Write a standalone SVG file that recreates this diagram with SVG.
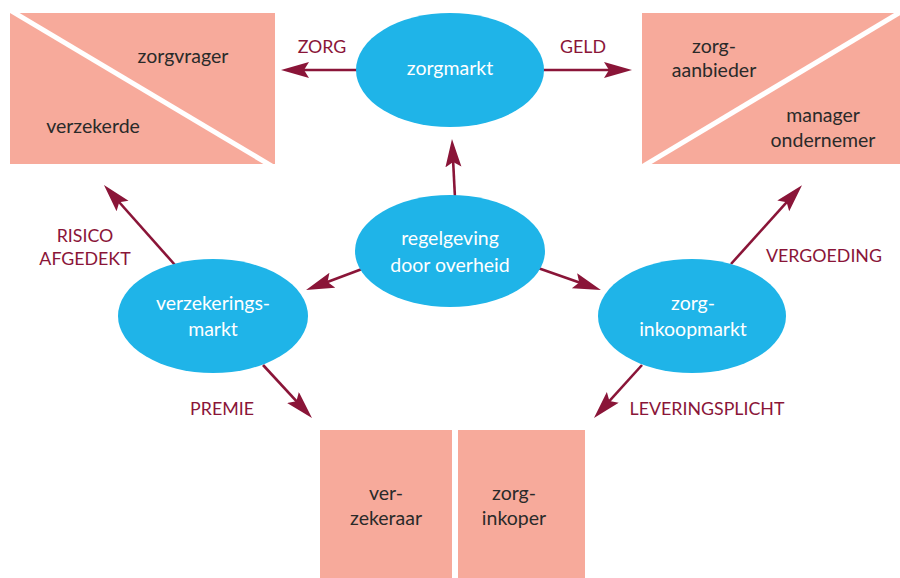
<svg xmlns="http://www.w3.org/2000/svg" width="900" height="578" viewBox="0 0 900 578">
<style>
.box{fill:#f7aa9b}
.ell{fill:#1fb4e8}
.diag{stroke:#fff;stroke-width:5}
.nt{font-family:Lato,"Open Sans","Liberation Sans",sans-serif;font-size:19.5px;fill:#fff;text-anchor:middle}
.bt{font-family:Lato,"Open Sans","Liberation Sans",sans-serif;font-size:19.5px;fill:#2a2a2a;text-anchor:middle}
.lb{font-family:Lato,"Open Sans","Liberation Sans",sans-serif;font-size:17.8px;fill:#8a1538;text-anchor:middle}
.arr{stroke:#8a1538;stroke-width:2.6;fill:none;marker-end:url(#ah)}
</style>
<defs>
<marker id="ah" markerUnits="userSpaceOnUse" markerWidth="30" markerHeight="18" refX="18" refY="8" orient="auto" viewBox="0 0 30 18">
<path d="M0,0 L28,8 L0,16 L5,8 z" fill="#8a1538"/>
</marker>
<clipPath id="c1"><rect x="10" y="13" width="265" height="151"/></clipPath>
<clipPath id="c2"><rect x="642" y="13" width="258" height="151"/></clipPath>
</defs>
<g id="connectors">
<line class="arr" x1="360" y1="70" x2="291" y2="70"/>
<line class="arr" x1="540" y1="70" x2="622" y2="70"/>
<line class="arr" x1="455" y1="198" x2="452.5" y2="149"/>
<line class="arr" x1="362" y1="269" x2="315.4" y2="286.5"/>
<line class="arr" x1="538" y1="268" x2="591.5" y2="286.7"/>
<line class="arr" x1="175" y1="265" x2="110.6" y2="192.5"/>
<line class="arr" x1="263" y1="365" x2="305.2" y2="410.7"/>
<line class="arr" x1="731" y1="264" x2="795.3" y2="192.6"/>
<line class="arr" x1="642" y1="365" x2="600.7" y2="410.6"/>
</g>
<g id="labels">
<text class="lb" x="322" y="53">ZORG</text>
<text class="lb" x="583" y="53">GELD</text>
<text class="lb" x="85" y="242">RISICO</text>
<text class="lb" x="85" y="265">AFGEDEKT</text>
<text class="lb" x="222" y="415">PREMIE</text>
<text class="lb" x="824" y="262">VERGOEDING</text>
<text class="lb" x="707" y="415">LEVERINGSPLICHT</text>
</g>
<g id="box-zorgvrager">
<rect class="box" x="10" y="13" width="265" height="151"/>
<line class="diag" x1="8" y1="9" x2="275" y2="168" clip-path="url(#c1)"/>
<text class="bt" x="183" y="63">zorgvrager</text>
<text class="bt" x="93" y="133">verzekerde</text>
</g>
<g id="box-zorgaanbieder">
<rect class="box" x="642" y="13" width="258" height="151"/>
<line class="diag" x1="640" y1="168" x2="904" y2="10" clip-path="url(#c2)"/>
<text class="bt" x="714" y="53">zorg-</text>
<text class="bt" x="714" y="77">aanbieder</text>
<text class="bt" x="823" y="122">manager</text>
<text class="bt" x="823" y="147">ondernemer</text>
</g>
<g id="box-verzekeraar">
<rect class="box" x="320" y="430" width="132" height="148"/>
<text class="bt" x="386" y="500">ver-</text>
<text class="bt" x="386" y="525">zekeraar</text>
</g>
<g id="box-zorginkoper">
<rect class="box" x="458" y="430" width="127" height="148"/>
<text class="bt" x="514" y="500">zorg-</text>
<text class="bt" x="514" y="525">inkoper</text>
</g>
<g id="node-zorgmarkt">
<ellipse class="ell" cx="450" cy="70" rx="94" ry="57"/>
<text class="nt" x="450" y="75">zorgmarkt</text>
</g>
<g id="node-regelgeving">
<ellipse class="ell" cx="450" cy="251" rx="95" ry="56"/>
<text class="nt" x="450" y="245">regelgeving</text>
<text class="nt" x="450" y="272">door overheid</text>
</g>
<g id="node-verzekeringsmarkt">
<ellipse class="ell" cx="213" cy="316" rx="95" ry="57"/>
<text class="nt" x="213" y="310">verzekerings-</text>
<text class="nt" x="213" y="336">markt</text>
</g>
<g id="node-zorginkoopmarkt">
<ellipse class="ell" cx="692" cy="316" rx="94" ry="57"/>
<text class="nt" x="693" y="310">zorg-</text>
<text class="nt" x="693" y="336">inkoopmarkt</text>
</g>
</svg>
